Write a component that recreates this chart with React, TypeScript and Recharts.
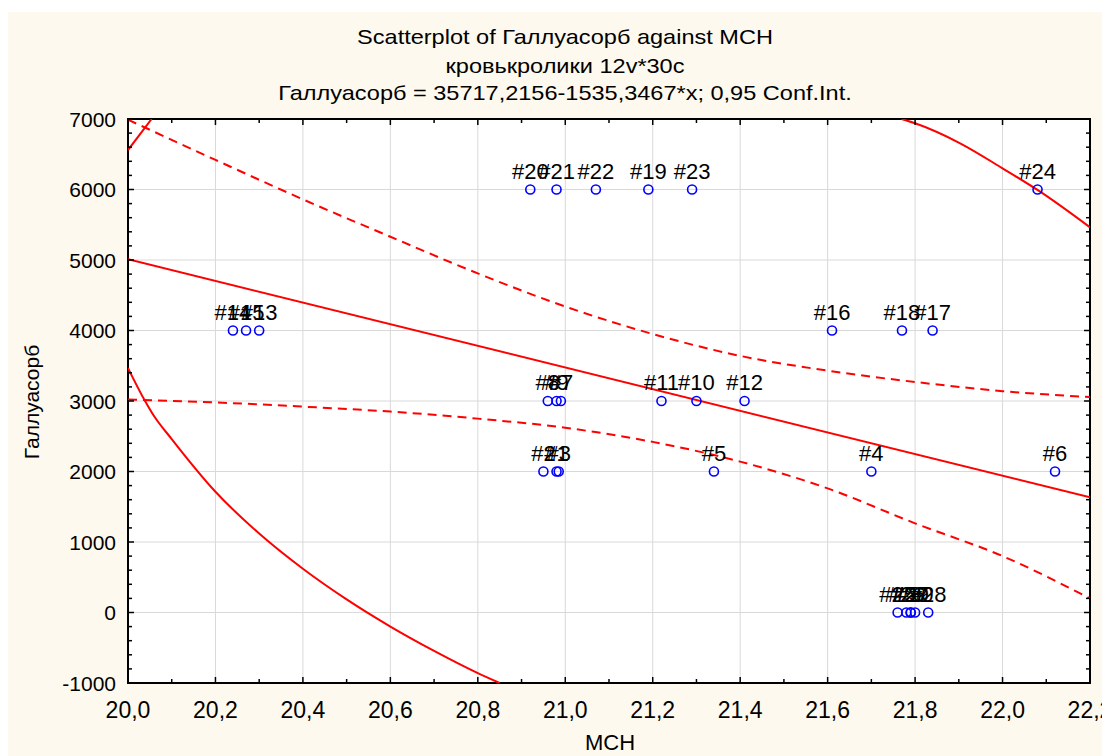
import { CartesianGrid, ReferenceArea, Scatter, ScatterChart, XAxis, YAxis } from 'recharts';

// case numbers and their values (MCH on x, Галлуасорб on y)
const CASE_NO = [1, 2, 3, 4, 5, 6, 7, 8, 9, 10, 11, 12, 13, 14, 15, 16, 17, 18, 19, 20, 21, 22, 23, 24, 25, 26, 27, 28, 29, 30];
const MCH = [
  20.98, 20.95, 20.985, 21.7, 21.34, 22.12, 20.99, 20.96, 20.98, 21.3, 21.22, 21.41, 20.3, 20.24, 20.27, 21.61, 21.84,
  21.77, 21.19, 20.92, 20.98, 21.07, 21.29, 22.08, 21.76, 21.78, 21.79, 21.83, 21.79, 21.8,
];
const GALL = [
  2000, 2000, 2000, 2000, 2000, 2000, 3000, 3000, 3000, 3000, 3000, 3000, 4000, 4000, 4000, 4000, 4000, 4000, 6000, 6000,
  6000, 6000, 6000, 6000, 0, 0, 0, 0, 0, 0,
];

// fitted line ends (Галлуасорб = 35717,2156-1535,3467*x)
const FIT_X = [20.0, 22.2];
const FIT_Y = [5010, 1633];

// 0,95 confidence band
const BAND_X = [20.0, 20.2, 20.4, 20.6, 20.8, 21.0, 21.2, 21.4, 21.6, 21.8, 22.0, 22.2];
const BAND_HI = [6990, 6420, 5860, 5330, 4810, 4340, 3950, 3640, 3430, 3270, 3140, 3055];
const BAND_LO = [3020, 2980, 2920, 2850, 2750, 2620, 2420, 2140, 1760, 1265, 800, 200];

// pieces of the prediction ellipse that fall inside the frame
const ELL_TL_X = [20.0, 20.054];
const ELL_TL_Y = [6560, 7000];
const ELL_TR_X = [21.769, 21.8, 21.903, 22.0, 22.086, 22.2];
const ELL_TR_Y = [7000, 6939, 6655, 6300, 5969, 5463];
const ELL_BL_X = [20.0, 20.039, 20.058, 20.1, 20.2, 20.3, 20.4, 20.5, 20.6, 20.7, 20.8, 20.85];
const ELL_BL_Y = [3468, 3000, 2801, 2460, 1713, 1120, 620, 185, -200, -545, -860, -1000];

const X_LABELS = [20.0, 20.2, 20.4, 20.6, 20.8, 21.0, 21.2, 21.4, 21.6, 21.8, 22.0, 22.2];
const Y_LABELS = [-1000, 0, 1000, 2000, 3000, 4000, 5000, 6000, 7000];

const W = 1102;
const H = 744;
const M = { top: 107, right: 20, bottom: 0, left: 0 };
const Y_W = 120;
const X_H = 73;
const PLOT_TOP = M.top;
const PLOT_BOTTOM = H - X_H;
const PLOT_LEFT = Y_W;
const PLOT_RIGHT = W - M.right;

const FONT = '"Liberation Sans", Arial, sans-serif';

const xTicks: number[] = [];
for (let i = 0; i <= 22; i++) xTicks.push(Math.round((20 + i * 0.1) * 10) / 10);
const yTicks: number[] = [];
for (let v = -1000; v <= 7000; v += 200) yTicks.push(v);

const pts = CASE_NO.map((id, i) => ({ id, x: MCH[i], y: GALL[i] }));
const toXY = (xs: number[], ys: number[]) => xs.map((x, i) => ({ x, y: ys[i] }));

const fmt = (v: number) => v.toFixed(1).replace('.', ',');

function XTick(props: any) {
  const { x, payload } = props;
  const v = payload.value;
  const major = X_LABELS.some((m) => Math.abs(m - v) < 1e-6);
  const len = major ? 6 : 4;
  return (
    <g>
      <line x1={x} x2={x} y1={PLOT_BOTTOM} y2={PLOT_BOTTOM - len} stroke="#000" strokeWidth={1.5} />
      <line x1={x} x2={x} y1={PLOT_TOP} y2={PLOT_TOP + len} stroke="#000" strokeWidth={1.5} />
      {major && (
        <text x={x} y={PLOT_BOTTOM + 35} textAnchor="middle" fontSize={23} fontFamily={FONT} fill="#000">
          {fmt(v)}
        </text>
      )}
    </g>
  );
}

function YTick(props: any) {
  const { y, payload } = props;
  const v = payload.value;
  const major = Y_LABELS.includes(v);
  const len = major ? 6 : 4;
  return (
    <g>
      <line x1={PLOT_LEFT} x2={PLOT_LEFT + len} y1={y} y2={y} stroke="#000" strokeWidth={1.5} />
      <line x1={PLOT_RIGHT - len} x2={PLOT_RIGHT} y1={y} y2={y} stroke="#000" strokeWidth={1.5} />
      {major && (
        <text x={PLOT_LEFT - 12} y={y} dy="0.36em" textAnchor="end" fontSize={21} fontFamily={FONT} fill="#000">
          {v}
        </text>
      )}
    </g>
  );
}

function CaseDot(props: any) {
  const { cx, cy, payload } = props;
  return (
    <g>
      <circle cx={cx} cy={cy} r={4.5} fill="none" stroke="#0000ff" strokeWidth={1.6} />
      <text x={cx} y={cy - 11} textAnchor="middle" fontSize={22} fontFamily={FONT} fill="#000">
        #{payload.id}
      </text>
    </g>
  );
}

const noShape = () => <g />;
const RED = '#ff0000';
const dashed = { stroke: RED, strokeWidth: 2, strokeDasharray: '9 6' };
const solid = { stroke: RED, strokeWidth: 2 };

export default function App() {
  const titleStyle: React.CSSProperties = {
    position: 'absolute',
    left: 0,
    width: 1114,
    textAlign: 'center',
    fontSize: 21,
    lineHeight: '24px',
    transform: 'scaleX(1.12)',
    whiteSpace: 'nowrap',
  };
  return (
    <div style={{ paddingTop: 4 }}>
      <style>{'body{overflow:hidden}'}</style>
      <div style={{ position: 'relative', width: W, height: H, background: '#fdf9ee', fontFamily: FONT, color: '#000' }}>
        <div style={{ ...titleStyle, top: 13 }}>Scatterplot of Галлуасорб against MCH</div>
        <div style={{ ...titleStyle, top: 42 }}>кровькролики 12v*30c</div>
        <div style={{ ...titleStyle, top: 69 }}>Галлуасорб = 35717,2156-1535,3467*x; 0,95 Conf.Int.</div>
        <ScatterChart width={W} height={H} margin={M}>
          <CartesianGrid
            fill="#ffffff"
            stroke="#d9d9d9"
            strokeWidth={1}
            verticalValues={X_LABELS}
            horizontalValues={Y_LABELS}
          />
          <XAxis
            type="number"
            dataKey="x"
            domain={[20, 22.2]}
            ticks={xTicks}
            interval={0}
            allowDataOverflow
            height={X_H}
            axisLine={false}
            tickLine={false}
            tick={(p: any) => <XTick {...p} />}
          />
          <YAxis
            type="number"
            dataKey="y"
            domain={[-1000, 7000]}
            ticks={yTicks}
            interval={0}
            allowDataOverflow
            width={Y_W}
            axisLine={false}
            tickLine={false}
            tick={(p: any) => <YTick {...p} />}
          />
          <Scatter data={toXY(BAND_X, BAND_HI)} fill={RED} line={dashed} lineJointType="monotoneX" shape={noShape} isAnimationActive={false} />
          <Scatter data={toXY(BAND_X, BAND_LO)} fill={RED} line={dashed} lineJointType="monotoneX" shape={noShape} isAnimationActive={false} />
          <Scatter data={toXY(FIT_X, FIT_Y)} fill={RED} line={solid} shape={noShape} isAnimationActive={false} />
          <Scatter data={toXY(ELL_TL_X, ELL_TL_Y)} fill={RED} line={solid} shape={noShape} isAnimationActive={false} />
          <Scatter data={toXY(ELL_TR_X, ELL_TR_Y)} fill={RED} line={solid} lineJointType="monotoneX" shape={noShape} isAnimationActive={false} />
          <Scatter data={toXY(ELL_BL_X, ELL_BL_Y)} fill={RED} line={solid} lineJointType="monotoneX" shape={noShape} isAnimationActive={false} />
          <Scatter data={pts} shape={(p: any) => <CaseDot {...p} />} isAnimationActive={false} />
          <ReferenceArea x1={20} x2={22.2} y1={-1000} y2={7000} fill="none" stroke="#000" strokeWidth={2} />
        </ScatterChart>
        <div
          style={{
            position: 'absolute',
            left: 24,
            top: 390,
            fontSize: 21,
            transform: 'translate(-50%, -50%) rotate(-90deg)',
            whiteSpace: 'nowrap',
          }}
        >
          Галлуасорб
        </div>
        <div
          style={{
            position: 'absolute',
            left: 602,
            top: 731,
            fontSize: 22,
            transform: 'translate(-50%, -50%)',
            whiteSpace: 'nowrap',
          }}
        >
          MCH
        </div>
      </div>
    </div>
  );
}
